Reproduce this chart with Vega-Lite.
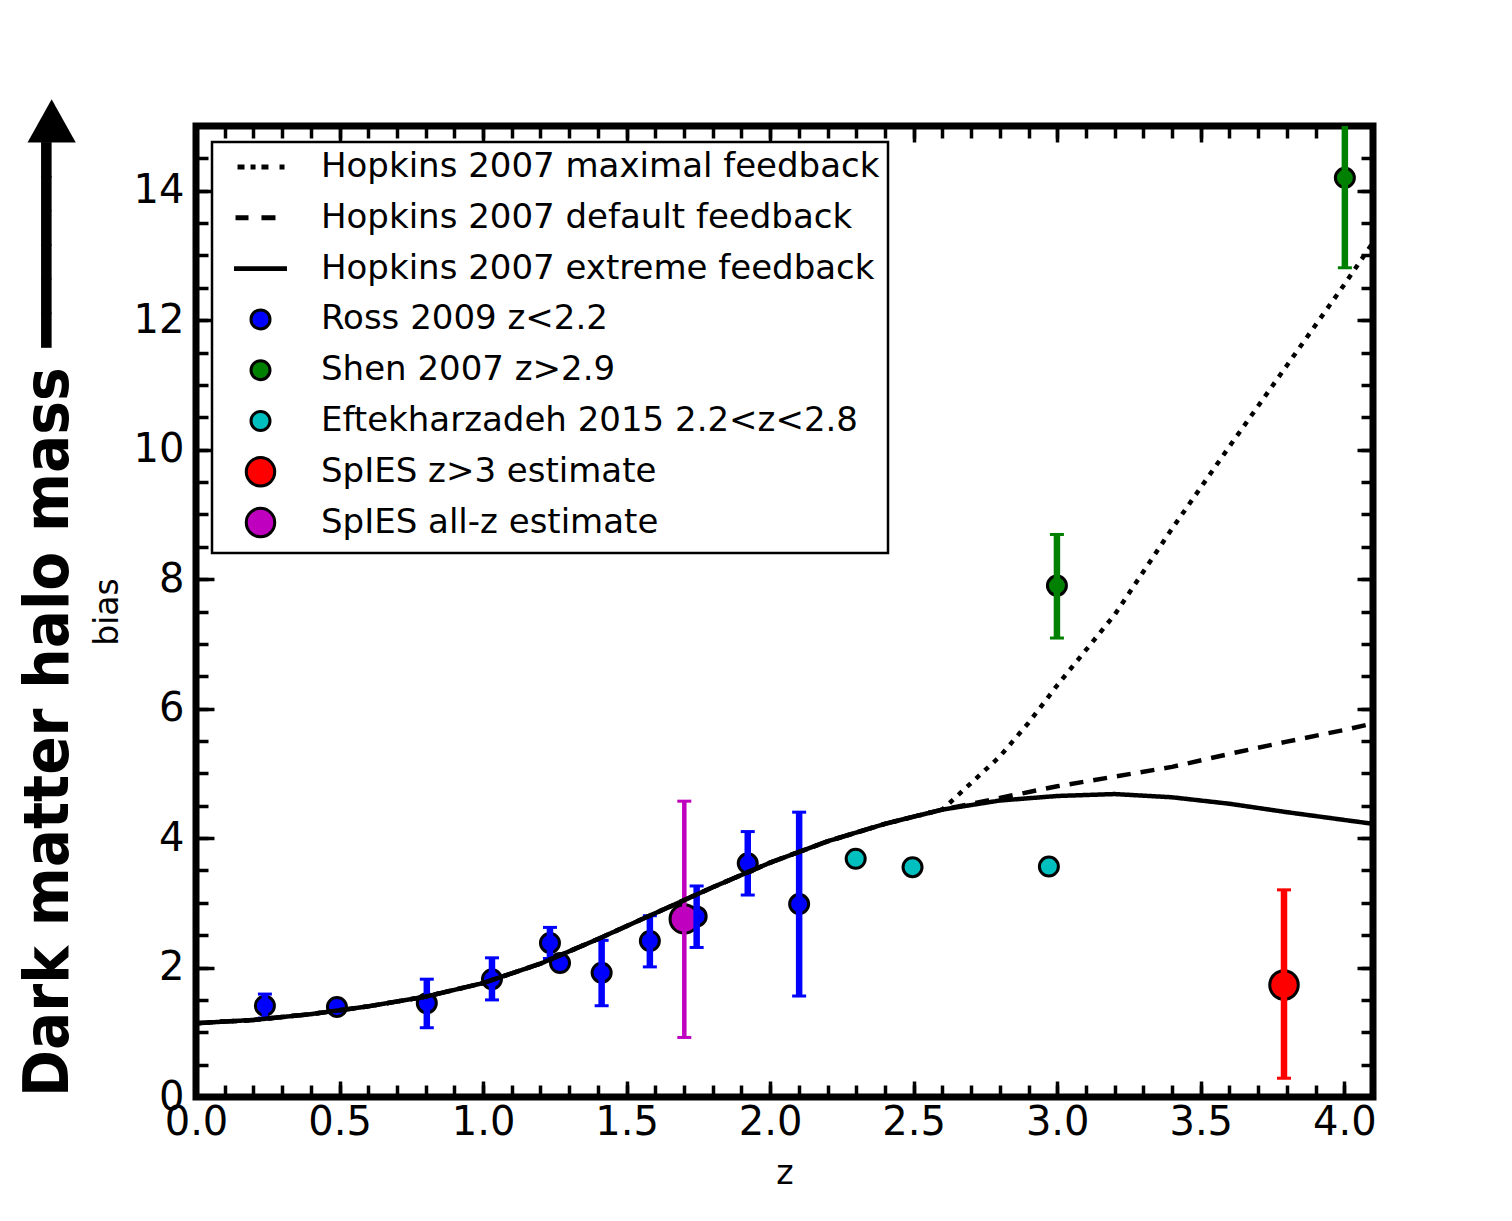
{
  "$schema": "https://vega.github.io/schema/vega-lite/v6.json",
  "width": 1177,
  "height": 971,
  "autosize": {"type": "none"},
  "padding": {"left": 196, "top": 126, "right": 139, "bottom": 124},
  "background": "white",
  "title": {
    "text": "Dark matter halo mass ━━━━━━▶",
    "orient": "left",
    "anchor": "start",
    "frame": "group",
    "font": "DejaVu Sans Condensed",
    "fontWeight": "bold",
    "fontSize": 63,
    "color": "black",
    "offset": 10
  },
  "datasets": {
    "pts": [
      {"series": "Ross 2009 z<2.2", "z": 0.240, "b": 1.41, "lo": 1.22, "hi": 1.59},
      {"series": "Ross 2009 z<2.2", "z": 0.491, "b": 1.39, "lo": null, "hi": null},
      {"series": "Ross 2009 z<2.2", "z": 0.804, "b": 1.45, "lo": 1.07, "hi": 1.82},
      {"series": "Ross 2009 z<2.2", "z": 1.031, "b": 1.82, "lo": 1.50, "hi": 2.15},
      {"series": "Ross 2009 z<2.2", "z": 1.233, "b": 2.38, "lo": 2.14, "hi": 2.62},
      {"series": "Ross 2009 z<2.2", "z": 1.268, "b": 2.07, "lo": null, "hi": null},
      {"series": "Ross 2009 z<2.2", "z": 1.413, "b": 1.92, "lo": 1.41, "hi": 2.42},
      {"series": "Ross 2009 z<2.2", "z": 1.581, "b": 2.41, "lo": 2.01, "hi": 2.80},
      {"series": "Ross 2009 z<2.2", "z": 1.744, "b": 2.79, "lo": 2.31, "hi": 3.26},
      {"series": "Ross 2009 z<2.2", "z": 1.922, "b": 3.61, "lo": 3.12, "hi": 4.10},
      {"series": "Ross 2009 z<2.2", "z": 2.101, "b": 2.98, "lo": 1.56, "hi": 4.40},
      {"series": "Shen 2007 z>2.9", "z": 2.999, "b": 7.90, "lo": 7.09, "hi": 8.69},
      {"series": "Shen 2007 z>2.9", "z": 4.002, "b": 14.2, "lo": 12.81, "hi": 15.59},
      {"series": "Eftekharzadeh 2015 2.2<z<2.8", "z": 2.298, "b": 3.68, "lo": null, "hi": null},
      {"series": "Eftekharzadeh 2015 2.2<z<2.8", "z": 2.496, "b": 3.55, "lo": null, "hi": null},
      {"series": "Eftekharzadeh 2015 2.2<z<2.8", "z": 2.971, "b": 3.56, "lo": null, "hi": null},
      {"series": "SpIES z>3 estimate", "z": 3.79, "b": 1.73, "lo": 0.29, "hi": 3.20},
      {"series": "SpIES all-z estimate", "z": 1.701, "b": 2.75, "lo": 0.92, "hi": 4.57}
    ],
    "curves": [
      {"curve": "Hopkins 2007 extreme feedback", "z": 0.0, "b": 1.14},
      {"curve": "Hopkins 2007 extreme feedback", "z": 0.2, "b": 1.19},
      {"curve": "Hopkins 2007 extreme feedback", "z": 0.4, "b": 1.28},
      {"curve": "Hopkins 2007 extreme feedback", "z": 0.6, "b": 1.40},
      {"curve": "Hopkins 2007 extreme feedback", "z": 0.8, "b": 1.55},
      {"curve": "Hopkins 2007 extreme feedback", "z": 1.0, "b": 1.76},
      {"curve": "Hopkins 2007 extreme feedback", "z": 1.2, "b": 2.06},
      {"curve": "Hopkins 2007 extreme feedback", "z": 1.4, "b": 2.44},
      {"curve": "Hopkins 2007 extreme feedback", "z": 1.6, "b": 2.84},
      {"curve": "Hopkins 2007 extreme feedback", "z": 1.8, "b": 3.24},
      {"curve": "Hopkins 2007 extreme feedback", "z": 2.0, "b": 3.62},
      {"curve": "Hopkins 2007 extreme feedback", "z": 2.2, "b": 3.95},
      {"curve": "Hopkins 2007 extreme feedback", "z": 2.4, "b": 4.22},
      {"curve": "Hopkins 2007 extreme feedback", "z": 2.6, "b": 4.44},
      {"curve": "Hopkins 2007 extreme feedback", "z": 2.8, "b": 4.58},
      {"curve": "Hopkins 2007 extreme feedback", "z": 3.0, "b": 4.65},
      {"curve": "Hopkins 2007 extreme feedback", "z": 3.2, "b": 4.68},
      {"curve": "Hopkins 2007 extreme feedback", "z": 3.4, "b": 4.63},
      {"curve": "Hopkins 2007 extreme feedback", "z": 3.6, "b": 4.53},
      {"curve": "Hopkins 2007 extreme feedback", "z": 3.8, "b": 4.40},
      {"curve": "Hopkins 2007 extreme feedback", "z": 4.0, "b": 4.28},
      {"curve": "Hopkins 2007 extreme feedback", "z": 4.1, "b": 4.22},
      {"curve": "Hopkins 2007 default feedback", "z": 0.0, "b": 1.14},
      {"curve": "Hopkins 2007 default feedback", "z": 0.2, "b": 1.19},
      {"curve": "Hopkins 2007 default feedback", "z": 0.4, "b": 1.28},
      {"curve": "Hopkins 2007 default feedback", "z": 0.6, "b": 1.40},
      {"curve": "Hopkins 2007 default feedback", "z": 0.8, "b": 1.55},
      {"curve": "Hopkins 2007 default feedback", "z": 1.0, "b": 1.76},
      {"curve": "Hopkins 2007 default feedback", "z": 1.2, "b": 2.06},
      {"curve": "Hopkins 2007 default feedback", "z": 1.4, "b": 2.44},
      {"curve": "Hopkins 2007 default feedback", "z": 1.6, "b": 2.84},
      {"curve": "Hopkins 2007 default feedback", "z": 1.8, "b": 3.24},
      {"curve": "Hopkins 2007 default feedback", "z": 2.0, "b": 3.62},
      {"curve": "Hopkins 2007 default feedback", "z": 2.2, "b": 3.95},
      {"curve": "Hopkins 2007 default feedback", "z": 2.4, "b": 4.22},
      {"curve": "Hopkins 2007 default feedback", "z": 2.6, "b": 4.44},
      {"curve": "Hopkins 2007 default feedback", "z": 2.8, "b": 4.62},
      {"curve": "Hopkins 2007 default feedback", "z": 3.0, "b": 4.80},
      {"curve": "Hopkins 2007 default feedback", "z": 3.2, "b": 4.95},
      {"curve": "Hopkins 2007 default feedback", "z": 3.4, "b": 5.10},
      {"curve": "Hopkins 2007 default feedback", "z": 3.6, "b": 5.30},
      {"curve": "Hopkins 2007 default feedback", "z": 3.8, "b": 5.49},
      {"curve": "Hopkins 2007 default feedback", "z": 4.0, "b": 5.67},
      {"curve": "Hopkins 2007 default feedback", "z": 4.1, "b": 5.77},
      {"curve": "Hopkins 2007 maximal feedback", "z": 0.0, "b": 1.14},
      {"curve": "Hopkins 2007 maximal feedback", "z": 0.2, "b": 1.19},
      {"curve": "Hopkins 2007 maximal feedback", "z": 0.4, "b": 1.28},
      {"curve": "Hopkins 2007 maximal feedback", "z": 0.6, "b": 1.40},
      {"curve": "Hopkins 2007 maximal feedback", "z": 0.8, "b": 1.55},
      {"curve": "Hopkins 2007 maximal feedback", "z": 1.0, "b": 1.76},
      {"curve": "Hopkins 2007 maximal feedback", "z": 1.2, "b": 2.06},
      {"curve": "Hopkins 2007 maximal feedback", "z": 1.4, "b": 2.44},
      {"curve": "Hopkins 2007 maximal feedback", "z": 1.6, "b": 2.84},
      {"curve": "Hopkins 2007 maximal feedback", "z": 1.8, "b": 3.24},
      {"curve": "Hopkins 2007 maximal feedback", "z": 2.0, "b": 3.62},
      {"curve": "Hopkins 2007 maximal feedback", "z": 2.2, "b": 3.95},
      {"curve": "Hopkins 2007 maximal feedback", "z": 2.4, "b": 4.22},
      {"curve": "Hopkins 2007 maximal feedback", "z": 2.6, "b": 4.44},
      {"curve": "Hopkins 2007 maximal feedback", "z": 2.7, "b": 4.85},
      {"curve": "Hopkins 2007 maximal feedback", "z": 2.8, "b": 5.26},
      {"curve": "Hopkins 2007 maximal feedback", "z": 2.9, "b": 5.78},
      {"curve": "Hopkins 2007 maximal feedback", "z": 3.0, "b": 6.36},
      {"curve": "Hopkins 2007 maximal feedback", "z": 3.2, "b": 7.45},
      {"curve": "Hopkins 2007 maximal feedback", "z": 3.4, "b": 8.78},
      {"curve": "Hopkins 2007 maximal feedback", "z": 3.6, "b": 10.05},
      {"curve": "Hopkins 2007 maximal feedback", "z": 3.8, "b": 11.30},
      {"curve": "Hopkins 2007 maximal feedback", "z": 4.0, "b": 12.55},
      {"curve": "Hopkins 2007 maximal feedback", "z": 4.1, "b": 13.20}
    ]
  },
  "layer": [
    {
      "data": {"name": "pts"},
      "mark": {"type": "point", "filled": true, "stroke": "black", "strokeWidth": 3, "size": 361, "opacity": 1},
      "encoding": {
        "x": {"field": "z", "type": "quantitative", "scale": {"domain": [0, 4.1], "nice": false, "zero": false},
          "axis": {"orient": "bottom", "values": [0, 0.5, 1, 1.5, 2, 2.5, 3, 3.5, 4], "format": ".1f", "tickSize": -16, "labelFontSize": 40, "labelPadding": 21, "labelFlush": false, "labelOverlap": false, "title": "z", "titleFontSize": 33, "titleFontWeight": "normal", "titlePadding": 15}},
        "y": {"field": "b", "type": "quantitative", "scale": {"domain": [0, 15], "nice": false, "zero": false},
          "axis": {"orient": "left", "values": [0, 2, 4, 6, 8, 10, 12, 14], "format": "d", "tickSize": -18, "labelFontSize": 40, "labelPadding": 30, "labelFlush": false, "labelOverlap": false, "title": "bias", "titleFontSize": 33, "titleFontWeight": "normal", "titlePadding": 9}},
        "shape": {"field": "series", "type": "nominal",
          "scale": {"domain": ["Hopkins 2007 maximal feedback", "Hopkins 2007 default feedback", "Hopkins 2007 extreme feedback", "Ross 2009 z<2.2", "Shen 2007 z>2.9", "Eftekharzadeh 2015 2.2<z<2.8", "SpIES z>3 estimate", "SpIES all-z estimate"],
                    "range": [
                      "M-2.26,-0.1H-1.84V0.1H-2.26Z M-0.89,-0.1H-0.68V0.1H-0.89Z M0.26,-0.1H0.68V0.1H0.26Z M2.16,-0.1H2.37V0.1H2.16Z M0,-1.71L0,-1.71 M0,1.71L0,1.71",
                      "M-2.47,-0.1H-1.42V0.1H-2.47Z M0.26,-0.1H1.42V0.1H0.26Z M0,-1.71L0,-1.71 M0,1.71L0,1.71",
                      "M-2.63,-0.1H2.63V0.1H-2.63Z M0,-1.71L0,-1.71 M0,1.71L0,1.71",
                      "M1,0A1,1,0,1,1,-1,0A1,1,0,1,1,1,0Z M0,-1.71L0,-1.71 M0,1.71L0,1.71",
                      "M1,0A1,1,0,1,1,-1,0A1,1,0,1,1,1,0Z M0,-1.71L0,-1.71 M0,1.71L0,1.71",
                      "M1,0A1,1,0,1,1,-1,0A1,1,0,1,1,1,0Z M0,-1.71L0,-1.71 M0,1.71L0,1.71",
                      "M1.5,0A1.5,1.5,0,1,1,-1.5,0A1.5,1.5,0,1,1,1.5,0Z M0,-1.71L0,-1.71 M0,1.71L0,1.71",
                      "M1.5,0A1.5,1.5,0,1,1,-1.5,0A1.5,1.5,0,1,1,1.5,0Z M0,-1.71L0,-1.71 M0,1.71L0,1.71"
                    ]}},
        "color": {"field": "series", "type": "nominal",
          "scale": {"domain": ["Hopkins 2007 maximal feedback", "Hopkins 2007 default feedback", "Hopkins 2007 extreme feedback", "Ross 2009 z<2.2", "Shen 2007 z>2.9", "Eftekharzadeh 2015 2.2<z<2.8", "SpIES z>3 estimate", "SpIES all-z estimate"],
                    "range": ["#000000", "#000000", "#000000", "#0000ff", "#008000", "#00bfbf", "#ff0000", "#bf00bf"]},
          "legend": {
            "title": null, "orient": "top-left", "offset": 16,
            "labelFont": "DejaVu Sans", "labelFontSize": 34, "labelColor": "black", "labelLimit": 0,
            "symbolSize": 361, "symbolStrokeColor": "black", "symbolStrokeWidth": 3, "symbolOpacity": 1,
            "padding": 8, "symbolOffset": 23.5, "labelOffset": 43.5, "rowPadding": 4.8,
            "strokeColor": "black", "fillColor": "white", "cornerRadius": 0
          }}
      }
    },
    {
      "data": {"name": "pts"},
      "transform": [{"filter": "isValid(datum.lo)"}],
      "mark": {"type": "rule", "clip": true},
      "encoding": {
        "x": {"field": "z", "type": "quantitative", "scale": {"domain": [0, 4.1], "nice": false, "zero": false},
          "axis": {"orient": "top", "values": [0, 0.5, 1, 1.5, 2, 2.5, 3, 3.5, 4], "tickSize": -16, "labels": false, "title": null}},
        "y": {"field": "lo", "type": "quantitative", "scale": {"domain": [0, 15], "nice": false, "zero": false},
          "axis": {"orient": "right", "values": [0, 2, 4, 6, 8, 10, 12, 14], "tickSize": -16, "labels": false, "title": null}},
        "y2": {"field": "hi"},
        "stroke": {"field": "series", "type": "nominal", "legend": null,
          "scale": {"domain": ["Ross 2009 z<2.2", "Shen 2007 z>2.9", "SpIES z>3 estimate", "SpIES all-z estimate"],
                    "range": ["#0000ff", "#008000", "#ff0000", "#bf00bf"]}},
        "strokeWidth": {"condition": {"test": "datum.series == 'SpIES all-z estimate'", "value": 4.5}, "value": 6.5}
      }
    },
    {
      "data": {"name": "pts"},
      "transform": [
        {"fold": ["lo", "hi"], "as": ["end", "yv"]},
        {"filter": "isValid(datum.yv)"}
      ],
      "mark": {"type": "tick", "orient": "horizontal", "size": 14, "thickness": 3, "clip": true, "opacity": 1},
      "encoding": {
        "x": {"field": "z", "type": "quantitative", "scale": {"domain": [0, 4.1], "nice": false, "zero": false},
          "axis": {"orient": "top", "values": [0, 0.1, 0.2, 0.3, 0.4, 0.5, 0.6, 0.7, 0.8, 0.9, 1, 1.1, 1.2, 1.3, 1.4, 1.5, 1.6, 1.7, 1.8, 1.9, 2, 2.1, 2.2, 2.3, 2.4, 2.5, 2.6, 2.7, 2.8, 2.9, 3, 3.1, 3.2, 3.3, 3.4, 3.5, 3.6, 3.7, 3.8, 3.9, 4, 4.1], "tickSize": -12, "labels": false, "title": null}},
        "y": {"field": "yv", "type": "quantitative", "scale": {"domain": [0, 15], "nice": false, "zero": false},
          "axis": {"orient": "right", "values": [0, 0.5, 1, 1.5, 2, 2.5, 3, 3.5, 4, 4.5, 5, 5.5, 6, 6.5, 7, 7.5, 8, 8.5, 9, 9.5, 10, 10.5, 11, 11.5, 12, 12.5, 13, 13.5, 14, 14.5, 15], "tickSize": -12, "labels": false, "title": null}},
        "fill": {"field": "series", "type": "nominal", "legend": null,
          "scale": {"domain": ["Ross 2009 z<2.2", "Shen 2007 z>2.9", "SpIES z>3 estimate", "SpIES all-z estimate"],
                    "range": ["#0000ff", "#008000", "#ff0000", "#bf00bf"]}}
      }
    },
    {
      "data": {"name": "curves"},
      "mark": {"type": "line", "color": "black", "strokeWidth": 4.5},
      "encoding": {
        "x": {"field": "z", "type": "quantitative", "scale": {"domain": [0, 4.1], "nice": false, "zero": false},
          "axis": {"orient": "bottom", "values": [0, 0.1, 0.2, 0.3, 0.4, 0.5, 0.6, 0.7, 0.8, 0.9, 1, 1.1, 1.2, 1.3, 1.4, 1.5, 1.6, 1.7, 1.8, 1.9, 2, 2.1, 2.2, 2.3, 2.4, 2.5, 2.6, 2.7, 2.8, 2.9, 3, 3.1, 3.2, 3.3, 3.4, 3.5, 3.6, 3.7, 3.8, 3.9, 4, 4.1], "tickSize": -12, "labels": false, "title": null}},
        "y": {"field": "b", "type": "quantitative", "scale": {"domain": [0, 15], "nice": false, "zero": false},
          "axis": {"orient": "left", "values": [0, 0.5, 1, 1.5, 2, 2.5, 3, 3.5, 4, 4.5, 5, 5.5, 6, 6.5, 7, 7.5, 8, 8.5, 9, 9.5, 10, 10.5, 11, 11.5, 12, 12.5, 13, 13.5, 14, 14.5, 15], "tickSize": -12, "labels": false, "title": null}},
        "strokeDash": {"field": "curve", "type": "nominal", "legend": null,
          "scale": {"domain": ["Hopkins 2007 maximal feedback", "Hopkins 2007 default feedback", "Hopkins 2007 extreme feedback"],
                    "range": [[5, 7], [14, 10], [1, 0]]}}
      }
    }
  ],
  "resolve": {"axis": {"x": "independent", "y": "independent"}},
  "config": {
    "font": "DejaVu Sans",
    "view": {"stroke": "black", "strokeWidth": 7, "fill": "white"},
    "legend": {"strokeWidth": 2.5},
    "axis": {"grid": false, "domain": false, "tickColor": "black", "tickWidth": 3.5, "tickCap": "butt", "labelColor": "black", "titleColor": "black", "labelFont": "DejaVu Sans", "titleFont": "DejaVu Sans"}
  }
}
